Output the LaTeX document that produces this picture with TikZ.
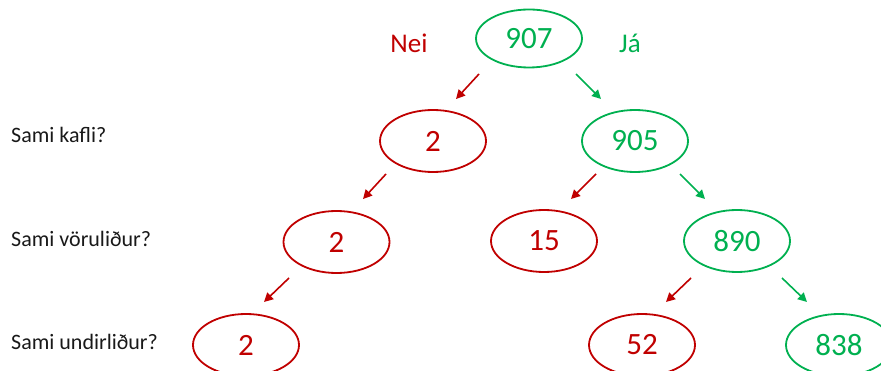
\documentclass[tikz,border=0pt]{standalone}
\usepackage{fontspec}
\setmainfont{Carlito}
\usetikzlibrary{arrows.meta,shapes.geometric}
\definecolor{nred}{RGB}{192,0,0}
\definecolor{jgreen}{RGB}{0,176,80}
\tikzset{
  x=1pt, y=-1pt,
  numnode/.style={ellipse, draw, line width=1.8pt, minimum width=106pt, minimum height=62pt, inner sep=0pt, font=\fontsize{31}{31}\selectfont},
  rednode/.style={numnode, draw=nred, text=nred},
  greennode/.style={numnode, draw=jgreen, text=jgreen},
  qlabel/.style={anchor=base west, inner sep=0pt, font=\fontsize{22}{22}\selectfont, text=black!90},
  arr/.style={line width=1.6pt, -{Triangle[length=9pt,width=9pt]}},
  redarr/.style={arr, draw=nred, fill=nred},
  greenarr/.style={arr, draw=jgreen, fill=jgreen},
}
\begin{document}
\begin{tikzpicture}
\useasboundingbox (0,0) rectangle (881,371);
\begin{scope}
\clip (0,0) rectangle (881,371);
% question labels
\node[qlabel] (q1) at (11,143) {Sami kafli?};
\node[qlabel] (q2) at (11,247) {Sami vöruliður?};
\node[qlabel] (q3) at (11,349) {Sami undirliður?};
% Nei / Já
\node[font=\fontsize{27}{27}\selectfont, text=nred] (nei) at (409,43) {Nei};
\node[font=\fontsize{27}{27}\selectfont, text=jgreen] (ja) at (630,43) {Já};
% nodes
\node[greennode, minimum height=58pt] (n907) at (529,38.5) {907};
\node[rednode] (n2a) at (433,141) {2};
\node[greennode] (n905) at (635,141) {905};
\node[rednode] (n2b) at (336.5,242) {2};
\node[rednode] (n15) at (544,241) {15};
\node[greennode] (n890) at (737,241) {890};
\node[rednode] (n2c) at (246,345) {2};
\node[rednode] (n52) at (642,345) {52};
\node[greennode] (n838) at (839,345) {838};
% arrow end points
\coordinate (a1s) at (479,74);  \coordinate (a1e) at (456,99);
\coordinate (a2s) at (576,74);  \coordinate (a2e) at (601,99);
\coordinate (a3s) at (386,174); \coordinate (a3e) at (363,199);
\coordinate (a4s) at (596,174); \coordinate (a4e) at (571,199);
\coordinate (a5s) at (680,174); \coordinate (a5e) at (705,199);
\coordinate (a6s) at (289,278); \coordinate (a6e) at (264,302);
\coordinate (a7s) at (691,278); \coordinate (a7e) at (666,302);
\coordinate (a8s) at (782,278); \coordinate (a8e) at (807,302);
\draw[redarr] (a1s) -- (a1e);
\draw[greenarr] (a2s) -- (a2e);
\draw[redarr] (a3s) -- (a3e);
\draw[redarr] (a4s) -- (a4e);
\draw[greenarr] (a5s) -- (a5e);
\draw[redarr] (a6s) -- (a6e);
\draw[redarr] (a7s) -- (a7e);
\draw[greenarr] (a8s) -- (a8e);
\end{scope}
\end{tikzpicture}
\end{document}
